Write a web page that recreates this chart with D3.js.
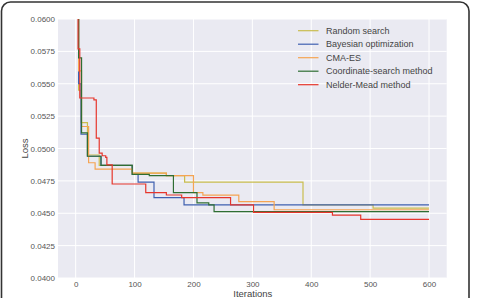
<!DOCTYPE html>
<html><head><meta charset="utf-8">
<script src="https://cdn.jsdelivr.net/npm/d3@7"></script>
<style>body{margin:0;background:#fff}svg{display:block;font-family:"Liberation Sans",Arial,sans-serif}</style>
</head><body><svg id="c" width="484" height="298"></svg>
<script>
const seriesNames = ["Random search","Bayesian optimization","CMA-ES","Coordinate-search method","Nelder-Mead method"];
const seriesColors = ["#c9bd4e","#3f60b0","#f5a452","#2f6e33","#e6362c"];
const xTicks = [0,100,200,300,400,500,600];
const yTicks = [0.0400,0.0425,0.0450,0.0475,0.0500,0.0525,0.0550,0.0575,0.0600];
// [iteration, loss] step points (step-after)
const randomSearch = [[0,0.07],[5,0.0545],[9,0.0520],[20,0.0495],[40,0.0487],[96,0.0481],[154,0.0479],[185,0.0474],[386,0.04565],[505,0.0454],[600,0.0454]];
const bayesian = [[0,0.07],[5,0.0550],[9,0.0511],[20,0.0494],[43,0.0487],[96,0.0480],[106,0.0474],[133,0.0462],[184,0.04565],[600,0.04565]];
const cmaes = [[0,0.07],[5,0.0560],[10,0.0517],[22,0.0489],[33,0.0484],[96,0.0481],[154,0.0479],[200,0.0466],[216,0.0464],[277,0.0459],[337,0.04527],[600,0.04527]];
const coordinate = [[0,0.07],[5,0.0570],[10,0.0512],[20,0.0494],[43,0.0487],[96,0.0480],[125,0.0479],[166,0.0466],[206,0.0458],[226,0.04565],[235,0.04513],[600,0.04513]];
const nelderMead = [[0,0.07],[4,0.0577],[7,0.0539],[31,0.05375],[35,0.0508],[40,0.04965],[45,0.04944],[51,0.04932],[53,0.04873],[62,0.04726],[119,0.04659],[154,0.04641],[180,0.0462],[263,0.04564],[302,0.04507],[436,0.04486],[484,0.04453],[600,0.04453]];
const allSeries = [randomSearch,bayesian,cmaes,coordinate,nelderMead];

const svg = d3.select("#c");
// frame
svg.append("rect").attr("x",1.5).attr("y",2).attr("width",467.5).attr("height",310).attr("rx",9)
  .attr("fill","#fff").attr("stroke","#333").attr("stroke-width",1.6);

const L=58, T=19, R=446.7, B=278;
const x = d3.scaleLinear().domain([-30,630]).range([L,R]);
const y = d3.scaleLinear().domain([0.04,0.06]).range([B,T]);

svg.append("rect").attr("x",L).attr("y",T).attr("width",R-L).attr("height",B-T).attr("fill","#eaeaf2");
const g = svg.append("g");
g.selectAll(".vg").data(xTicks).join("line").attr("x1",d=>x(d)).attr("x2",d=>x(d)).attr("y1",T).attr("y2",B).attr("stroke","#fff").attr("stroke-width",1);
g.selectAll(".hg").data(yTicks).join("line").attr("x1",L).attr("x2",R).attr("y1",d=>y(d)).attr("y2",d=>y(d)).attr("stroke","#fff").attr("stroke-width",1);

// axes (no lines, only labels)
const xa = svg.append("g").attr("transform",`translate(0,${B})`).call(d3.axisBottom(x).tickValues(xTicks).tickSize(0).tickPadding(3));
const ya = svg.append("g").attr("transform",`translate(${L},0)`).call(d3.axisLeft(y).tickValues(yTicks).tickFormat(d3.format(".4f")).tickSize(0).tickPadding(3));
[xa,ya].forEach(a=>{a.select(".domain").remove();a.selectAll("text").attr("fill","#555").attr("font-size","8px").attr("font-family","Liberation Sans, Arial, sans-serif");});

svg.append("text").attr("x",(L+R)/2+0.5).attr("y",297).attr("text-anchor","middle").attr("font-size","9.5px").attr("fill","#444").text("Iterations");
svg.append("text").attr("transform",`translate(28,${(T+B)/2}) rotate(-90)`).attr("text-anchor","middle").attr("font-size","9.5px").attr("fill","#444").text("Loss");

svg.append("clipPath").attr("id","cp").append("rect").attr("x",L).attr("y",T).attr("width",R-L).attr("height",B-T);
const line = d3.line().x(d=>x(d[0])).y(d=>y(d[1])).curve(d3.curveStepAfter);
const lg = svg.append("g").attr("clip-path","url(#cp)");
allSeries.forEach((s,i)=>{
  lg.append("path").datum(s).attr("d",line).attr("fill","none").attr("stroke",seriesColors[i]).attr("stroke-width",1.2);
});

// legend
const leg = svg.append("g");
seriesNames.forEach((n,i)=>{
  const yy = 30.7 + i*13.5;
  leg.append("line").attr("x1",298).attr("x2",318.5).attr("y1",yy).attr("y2",yy).attr("stroke",seriesColors[i]).attr("stroke-width",1.2);
  leg.append("text").attr("x",326).attr("y",yy+3.2).attr("font-size","9px").attr("fill","#444").text(n);
});
</script></body></html>
